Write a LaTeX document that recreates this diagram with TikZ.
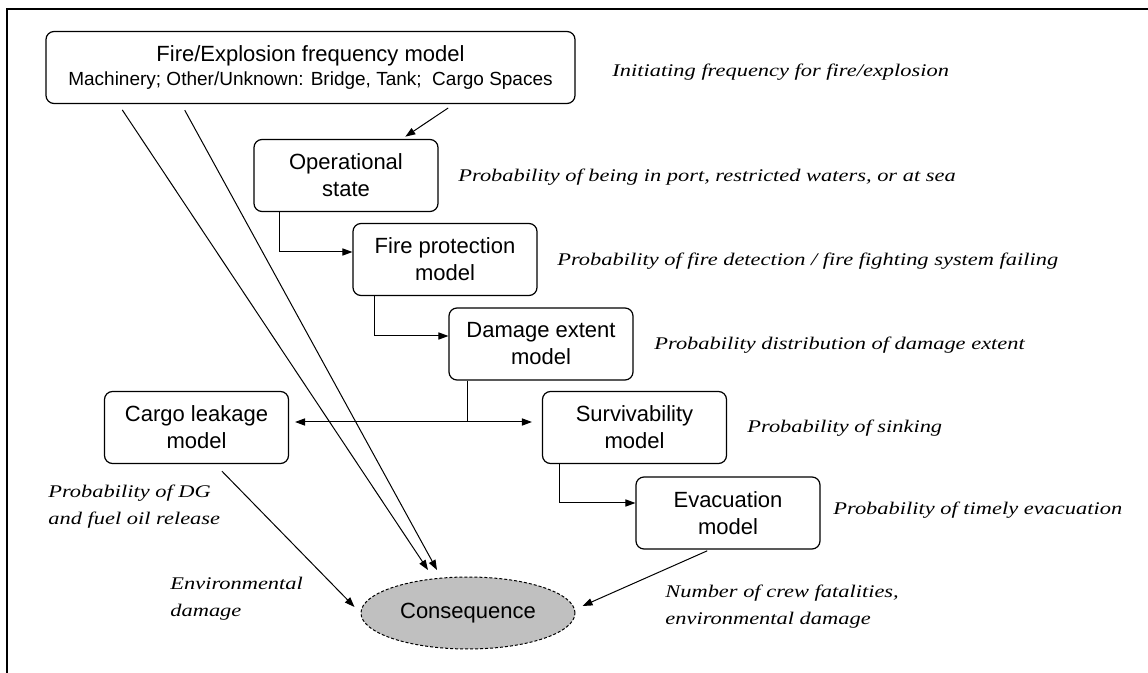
\documentclass[tikz,border=0pt]{standalone}
\usepackage{fontspec}
\setmainfont{Liberation Sans}
\newfontfamily\notefamily{Liberation Serif}[FakeStretch=1.26]
\usetikzlibrary{calc,shapes.geometric,arrows.meta}
\definecolor{consgray}{RGB}{192,192,192}
\begin{document}
\begin{tikzpicture}[x=0.5pt,y=0.5pt,
  model/.style={draw, line width=0.6pt, rounded corners=4pt, minimum width=92pt,
    minimum height=36pt, inner sep=0pt, align=center, font=\fontsize{11}{13.5}\selectfont},
  note/.style={anchor=base west, inner sep=0pt, align=left,
    font=\notefamily\itshape\fontsize{8.9}{13.75}\selectfont},
  link/.style={line width=0.5pt, -{Triangle[length=5pt,width=3.6pt]}}]
\useasboundingbox (0,0) rectangle (1148,-673);
\draw [line width=0.6pt] (7,-673) -- (7,-9) -- (1148,-9);
\node [model, minimum width=264.5pt, font=\fontsize{11}{12}\selectfont] (freq) at (310.5,-67.5)
  {Fire/Explosion frequency model\\\fontsize{9.5}{12}\selectfont Machinery; Other/Unknown: Bridge, Tank;\ \ Cargo Spaces};
\node [model] (op) at (346,-175.5) {Operational\\state};
\node [model] (fire) at (445,-259.5) {Fire protection\\model};
\node [model] (dmg) at (541,-344) {Damage extent\\model};
\node [model] (cargo) at (196.5,-427.5) {Cargo leakage\\model};
\node [model] (surv) at (634.5,-427.5) {Survivability\\model};
\node [model] (evac) at (728,-513) {Evacuation\\model};
\node [ellipse, draw, fill=consgray, dash pattern=on 1.5pt off 1pt, line width=0.5pt,
  minimum width=107pt, minimum height=36pt, inner sep=0pt,
  font=\fontsize{11}{13.5}\selectfont] (cons) at (468,-613) {Consequence};
\node [note] (initnote) at (612,-77) {Initiating frequency for fire/explosion};
\node [note] (opnote) at (458,-182) {Probability of being in port, restricted waters, or at sea};
\node [note] (firenote) at (557,-266) {Probability of fire detection / fire fighting system failing};
\node [note] (dmgnote) at (654,-350) {Probability distribution of damage extent};
\node [note] (survnote) at (747,-433) {Probability of sinking};
\node [note] (evacnote) at (833,-515) {Probability of timely evacuation};
\node [note] (cargonote) at (48,-525) {Probability of DG\\and fuel oil release};
\node [note] (envnote) at (170,-617) {Environmental\\damage};
\node [note] (crewnote) at (665,-625) {Number of crew fatalities,\\environmental damage};
\draw [link, shorten <=3.5pt, shorten >=2pt] ($(freq.south)+(143.5,0)$) -- ($(op.north)+(56,0)$);
\draw [link] ([xshift=13pt]op.south west) |- ([yshift=3.75pt]fire.west);
\draw [link] ([xshift=11pt]fire.south west) |- ([yshift=4pt]dmg.west);
\draw [link] ([xshift=9pt]surv.south west) |- ([yshift=5pt]evac.west);
\coordinate (split) at (467,-422);
\draw [line width=0.5pt] (dmg.south -| split) -- (split);
\draw [link, shorten >=3pt] (split) -- (cargo.east |- split);
\draw [link, shorten >=5pt] (split) -- (surv.west |- split);
\draw [link, shorten <=3.5pt] ($(freq.south west)+(73,0)$) -- ($(cons.center)+(-40,43)$);
\draw [link, shorten <=3.5pt] ($(freq.south west)+(136,0)$) -- ($(cons.center)+(-31,43)$);
\draw [link, shorten <=5pt] ($(cargo.south)+(18.5,0)$) -- ($(cons.west)+(-6,6)$);
\draw [link, shorten <=1.5pt] ($(evac.south)+(-18,0)$) -- ($(cons.east)+(7,7)$);
\end{tikzpicture}
\end{document}
